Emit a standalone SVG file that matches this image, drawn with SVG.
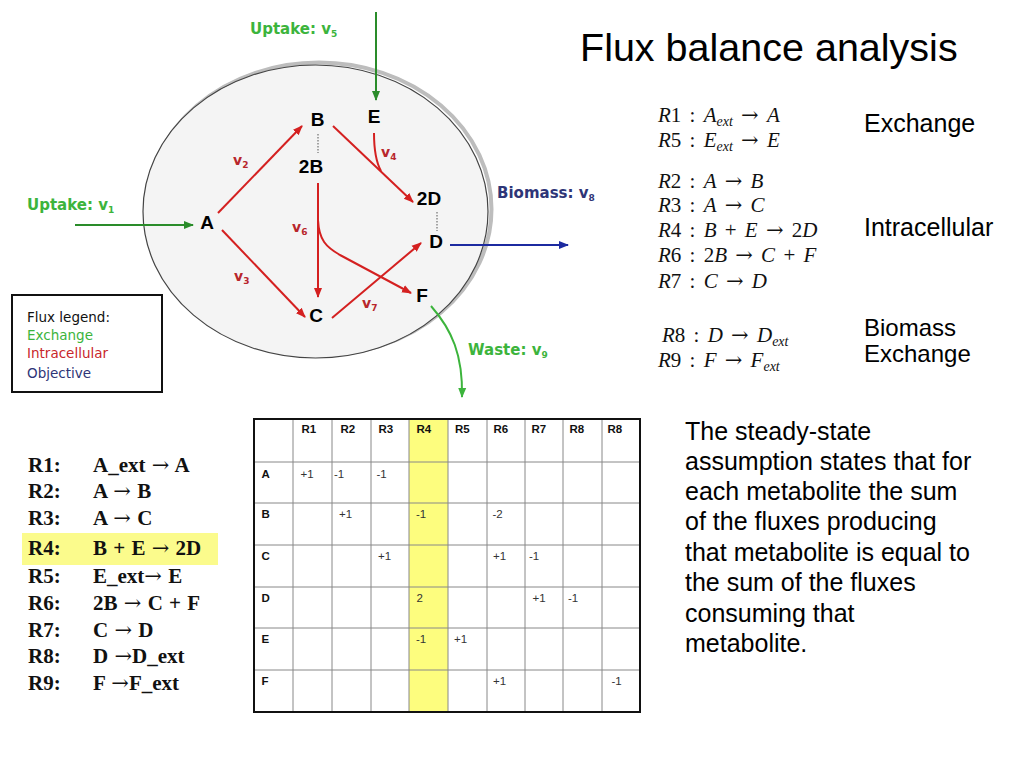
<svg xmlns="http://www.w3.org/2000/svg" width="1024" height="768" viewBox="0 0 1024 768">
<style>
.node{font-family:"Liberation Sans",Arial,sans-serif;font-weight:bold;font-size:19px;fill:#000;text-anchor:middle}
.vl{font-family:"DejaVu Sans",sans-serif;font-weight:bold;font-size:14px;fill:#b8262b}
.sb{font-size:9px}
.gl{font-family:"DejaVu Sans",sans-serif;font-weight:bold;font-size:15px;fill:#3cb43c}
.bl{font-family:"DejaVu Sans",sans-serif;font-weight:bold;font-size:15px;fill:#2e3577}
.leg{font-family:"DejaVu Sans",sans-serif;font-size:13.5px}
.red{stroke:#d42020;stroke-width:2;fill:none}
.grn{stroke:#2a8c2a;stroke-width:2;fill:none}
.grn2{stroke:#3cb43c;stroke-width:2;fill:none}
.blu{stroke:#1c2aa0;stroke-width:2;fill:none}
.dot{stroke:#555;stroke-width:1;stroke-dasharray:1.5,1.5;fill:none}
.title{font-family:"Liberation Sans",Arial,sans-serif;font-size:39.5px;fill:#000}
.m{font-family:"Liberation Serif","Times New Roman",serif;font-size:21px;fill:#111;word-spacing:3px}
.i{font-style:italic}
.s{font-size:14px}
.ar{font-family:"DejaVu Serif",serif;font-style:normal;font-weight:normal}
.lab{font-family:"Liberation Sans",Arial,sans-serif;font-size:25px;fill:#000}
.lab2{font-family:"Liberation Sans",Arial,sans-serif;font-size:24px;fill:#000}
.par{font-family:"Liberation Sans",Arial,sans-serif;font-size:25px;fill:#000}
.rx{font-family:"Liberation Serif","Times New Roman",serif;font-weight:bold;font-size:21px;fill:#111;word-spacing:1px}
.th{font-family:"Liberation Sans",Arial,sans-serif;font-weight:bold;font-size:11.5px;fill:#111}
.td{font-family:"Liberation Sans",Arial,sans-serif;font-size:11.5px;fill:#333}
.gridl{stroke:#888;stroke-width:1;fill:none}
</style>
<defs>
<marker id="mr" viewBox="0 0 10 10" refX="9" refY="5" markerWidth="5" markerHeight="5" orient="auto"><path d="M0,1 L10,5 L0,9 z" fill="#d42020"/></marker>
<marker id="mg" viewBox="0 0 10 10" refX="9" refY="5" markerWidth="5" markerHeight="5" orient="auto"><path d="M0,1 L10,5 L0,9 z" fill="#2a8c2a"/></marker>
<marker id="mg2" viewBox="0 0 10 10" refX="9" refY="5" markerWidth="5" markerHeight="5" orient="auto"><path d="M0,1 L10,5 L0,9 z" fill="#3cb43c"/></marker>
<marker id="mb" viewBox="0 0 10 10" refX="9" refY="5" markerWidth="5" markerHeight="5" orient="auto"><path d="M0,1 L10,5 L0,9 z" fill="#1c2aa0"/></marker>
</defs>
<rect width="1024" height="768" fill="#fff"/>

<g id="cell">
<ellipse cx="319" cy="209" rx="172.5" ry="146.5" fill="none" stroke="#bdbdbd" stroke-width="4"/>
<ellipse cx="315.5" cy="211.5" rx="172.5" ry="146.5" fill="#f4f4f4" stroke="#444" stroke-width="1.2"/>
</g>

<g id="connectors">
<path class="grn" d="M75,225 L193,225" marker-end="url(#mg)"/>
<path class="grn" d="M376,12 L376,100" marker-end="url(#mg)"/>
<path class="red" d="M218,213 L302,126" marker-end="url(#mr)"/>
<path class="red" d="M222,230 L305,317" marker-end="url(#mr)"/>
<path class="red" d="M333,126 L413,202" marker-end="url(#mr)"/>
<path class="red" d="M374,133 C374,152 376,162 381,171"/>
<path class="red" d="M318,183 L318,297" marker-end="url(#mr)"/>
<path class="red" d="M318,220 C319,240 326,247 340,255 L411,293" marker-end="url(#mr)"/>
<path class="red" d="M332,318 L421,243" marker-end="url(#mr)"/>
<path class="blu" d="M450,245 L568,245" marker-end="url(#mb)"/>
<path class="grn2" d="M431,306 C452,330 463,355 462,397" marker-end="url(#mg2)"/>
<path class="dot" d="M318,134 L318,153"/>
<path class="dot" d="M437,212 L437,231"/>
</g>

<g id="node-A"><text class="node" x="207" y="229">A</text></g>
<g id="node-B"><text class="node" x="317.5" y="126">B</text></g>
<g id="node-2B"><text class="node" x="311" y="173">2B</text></g>
<g id="node-E"><text class="node" x="374" y="123">E</text></g>
<g id="node-2D"><text class="node" x="429" y="205">2D</text></g>
<g id="node-D"><text class="node" x="436" y="248">D</text></g>
<g id="node-F"><text class="node" x="422" y="302">F</text></g>
<g id="node-C"><text class="node" x="316" y="322">C</text></g>

<g id="flux-labels">
<text class="vl" x="233" y="165">v<tspan class="sb" dy="3">2</tspan></text>
<text class="vl" x="234" y="281">v<tspan class="sb" dy="3">3</tspan></text>
<text class="vl" x="292" y="232">v<tspan class="sb" dy="3">6</tspan></text>
<text class="vl" x="381" y="157">v<tspan class="sb" dy="3">4</tspan></text>
<text class="vl" x="362" y="308">v<tspan class="sb" dy="3">7</tspan></text>
<text class="gl" x="27" y="210">Uptake: v<tspan class="sb" dy="3">1</tspan></text>
<text class="gl" x="250" y="34">Uptake: v<tspan class="sb" dy="3">5</tspan></text>
<text class="bl" x="497" y="198">Biomass: v<tspan class="sb" dy="3">8</tspan></text>
<text class="gl" x="468" y="355">Waste: v<tspan class="sb" dy="3">9</tspan></text>
</g>

<g id="legend">
<rect x="12" y="295" width="150" height="97" fill="#fff" stroke="#111" stroke-width="2"/>
<text class="leg" x="27" y="322" fill="#111">Flux legend:</text>
<text class="leg" x="27" y="340" fill="#3cb43c">Exchange</text>
<text class="leg" x="27" y="358" fill="#c8262b">Intracellular</text>
<text class="leg" x="27" y="378" fill="#2e3577">Objective</text>
</g>

<g id="title"><text class="title" x="580" y="61">Flux balance analysis</text></g>

<g id="equations">
<text class="m" x="658" y="122"><tspan class="i">R</tspan>1 : <tspan class="i">A</tspan><tspan class="i s" dy="4">ext</tspan><tspan dy="-4"> </tspan><tspan class="ar">→</tspan> <tspan class="i">A</tspan></text>
<text class="m" x="658" y="147"><tspan class="i">R</tspan>5 : <tspan class="i">E</tspan><tspan class="i s" dy="4">ext</tspan><tspan dy="-4"> </tspan><tspan class="ar">→</tspan> <tspan class="i">E</tspan></text>
<text class="m" x="658" y="188"><tspan class="i">R</tspan>2 : <tspan class="i">A</tspan> <tspan class="ar">→</tspan> <tspan class="i">B</tspan></text>
<text class="m" x="658" y="212"><tspan class="i">R</tspan>3 : <tspan class="i">A</tspan> <tspan class="ar">→</tspan> <tspan class="i">C</tspan></text>
<text class="m" x="658" y="237"><tspan class="i">R</tspan>4 : <tspan class="i">B</tspan> + <tspan class="i">E</tspan> <tspan class="ar">→</tspan> 2<tspan class="i">D</tspan></text>
<text class="m" x="658" y="262"><tspan class="i">R</tspan>6 : 2<tspan class="i">B</tspan> <tspan class="ar">→</tspan> <tspan class="i">C</tspan> + <tspan class="i">F</tspan></text>
<text class="m" x="658" y="288"><tspan class="i">R</tspan>7 : <tspan class="i">C</tspan> <tspan class="ar">→</tspan> <tspan class="i">D</tspan></text>
<text class="m" x="662" y="342"><tspan class="i">R</tspan>8 : <tspan class="i">D</tspan> <tspan class="ar">→</tspan> <tspan class="i">D</tspan><tspan class="i s" dy="4">ext</tspan></text>
<text class="m" x="658" y="367"><tspan class="i">R</tspan>9 : <tspan class="i">F</tspan> <tspan class="ar">→</tspan> <tspan class="i">F</tspan><tspan class="i s" dy="4">ext</tspan></text>
<text class="lab" x="864" y="132">Exchange</text>
<text class="lab" x="864" y="236">Intracellular</text>
<text class="lab2" x="864" y="336">Biomass</text>
<text class="lab2" x="864" y="362">Exchange</text>
</g>

<g id="reactions">
<rect x="22" y="533" width="196" height="32" fill="#fbfb8c"/>
<text class="rx" x="28" y="472">R1:</text><text class="rx" x="93" y="472">A_ext <tspan class="ar">→</tspan> A</text>
<text class="rx" x="28" y="498">R2:</text><text class="rx" x="93" y="498">A <tspan class="ar">→</tspan> B</text>
<text class="rx" x="28" y="525">R3:</text><text class="rx" x="93" y="525">A <tspan class="ar">→</tspan> C</text>
<text class="rx" x="28" y="555">R4:</text><text class="rx" x="93" y="555">B + E <tspan class="ar">→</tspan> 2D</text>
<text class="rx" x="28" y="583">R5:</text><text class="rx" x="93" y="583">E_ext<tspan class="ar">→</tspan> E</text>
<text class="rx" x="28" y="610">R6:</text><text class="rx" x="93" y="610">2B <tspan class="ar">→</tspan> C + F</text>
<text class="rx" x="28" y="637">R7:</text><text class="rx" x="93" y="637">C <tspan class="ar">→</tspan> D</text>
<text class="rx" x="28" y="663">R8:</text><text class="rx" x="93" y="663">D <tspan class="ar">→</tspan>D_ext</text>
<text class="rx" x="28" y="690">R9:</text><text class="rx" x="93" y="690">F <tspan class="ar">→</tspan>F_ext</text>
</g>

<g id="matrix">
<rect x="409" y="419" width="39" height="293" fill="#fdfd7e"/>
<path class="gridl" d="M293,419V712 M332,419V712 M371,419V712 M409,419V712 M448,419V712 M487,419V712 M525,419V712 M563,419V712 M602,419V712 M254,462H640 M254,503H640 M254,545H640 M254,587H640 M254,628H640 M254,670H640"/>
<rect x="254" y="419" width="386" height="293" fill="none" stroke="#111" stroke-width="2"/>
<text class="th" x="301.5" y="433">R1</text>
<text class="th" x="340.5" y="433">R2</text>
<text class="th" x="378.5" y="433">R3</text>
<text class="th" x="416.5" y="433">R4</text>
<text class="th" x="455" y="433">R5</text>
<text class="th" x="493.5" y="433">R6</text>
<text class="th" x="531.5" y="433">R7</text>
<text class="th" x="569.5" y="433">R8</text>
<text class="th" x="607.5" y="433">R8</text>
<text class="th" x="261.5" y="478">A</text>
<text class="th" x="261.5" y="518">B</text>
<text class="th" x="261.5" y="560">C</text>
<text class="th" x="261.5" y="602">D</text>
<text class="th" x="261.5" y="643">E</text>
<text class="th" x="261.5" y="685">F</text>
<text class="td" x="300.5" y="478">+1</text>
<text class="td" x="334" y="478">-1</text>
<text class="td" x="376.5" y="478">-1</text>
<text class="td" x="339" y="518">+1</text>
<text class="td" x="416" y="518">-1</text>
<text class="td" x="492.5" y="518">-2</text>
<text class="td" x="378" y="560">+1</text>
<text class="td" x="493" y="560">+1</text>
<text class="td" x="529" y="560">-1</text>
<text class="td" x="416.5" y="602">2</text>
<text class="td" x="532.5" y="602">+1</text>
<text class="td" x="568" y="602">-1</text>
<text class="td" x="416" y="643">-1</text>
<text class="td" x="454" y="643">+1</text>
<text class="td" x="493" y="685">+1</text>
<text class="td" x="611.5" y="685">-1</text>
</g>

<g id="explanation">
<text class="par" x="685" y="440">The steady-state</text>
<text class="par" x="685" y="470">assumption states that for</text>
<text class="par" x="685" y="500">each metabolite the sum</text>
<text class="par" x="685" y="530">of the fluxes producing</text>
<text class="par" x="685" y="561">that metabolite is equal to</text>
<text class="par" x="685" y="591">the sum of the fluxes</text>
<text class="par" x="685" y="622">consuming that</text>
<text class="par" x="685" y="652">metabolite.</text>
</g>
</svg>
